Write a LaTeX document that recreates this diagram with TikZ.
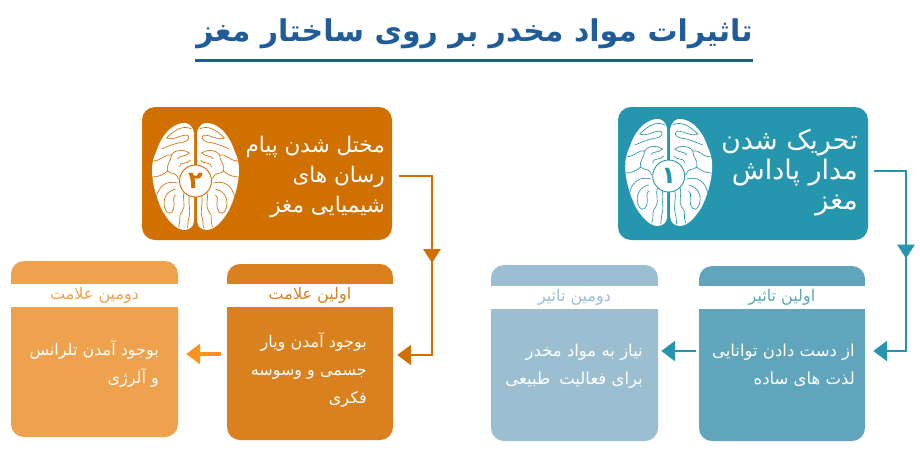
\documentclass[tikz,border=0pt]{standalone}
\usepackage{fontspec}
\usetikzlibrary{arrows.meta,decorations.markings}
\TeXXeTstate=1
\newfontfamily\arabicfont[Script=Arabic]{DejaVu Sans}
\newcommand{\fa}[1]{{\arabicfont\beginR #1\endR}}
\definecolor{tealmain}{HTML}{2596AE}
\definecolor{tealone}{HTML}{60A5BC}
\definecolor{tealtwo}{HTML}{9BBFD0}
\definecolor{orgmain}{HTML}{D07000}
\definecolor{orgone}{HTML}{D9801F}
\definecolor{orgtwo}{HTML}{EEA24E}
\definecolor{orgarrow}{HTML}{F7931E}
\definecolor{titleblue}{HTML}{1F5C99}
\tikzset{
 mainbox/.style={rounded corners=13pt,minimum width=250pt,minimum height=133pt,inner sep=0pt},
 card/.style={rounded corners=13pt,minimum width=#1,inner sep=0pt},
 titletext/.style={font=\fontsize{30}{34}\selectfont\bfseries,text=titleblue,inner sep=0pt},
 maintext/.style={font=\fontsize{21.5}{30}\selectfont,text=white,align=right,anchor=east,inner sep=0pt},
 bodytext/.style={font=\fontsize{16}{28}\selectfont,text=white,align=right,anchor=north east,inner sep=0pt},
 headtext/.style={font=\fontsize{16}{18}\selectfont,fill=white,minimum width=172pt,minimum height=23pt,inner sep=0pt},
 badge/.style={circle,fill=white,line width=.9pt,minimum size=32pt,inner sep=0pt,font=\fontsize{24}{26}\selectfont\bfseries},
 conn/.style={line width=2.8pt,-{Triangle[width=20pt,length=14pt]}},
 midtip/.style={postaction={decorate},decoration={markings,mark=at position #1 with {\arrow{Triangle[width=17pt,length=14pt]}}}},
}
% brain: #1 x centre, #2 top y, #3 line colour
\newcommand{\brainmark}[3]{%
\begin{scope}[shift={(#1,#2)}]
 \foreach \s in {-1,1}{
 \begin{scope}[xscale=\s]
  \fill[white] (1.5,10) .. controls (3,2) and (8,-1) .. (13,0) .. controls (26,2) and (35,15) .. (39,28)
    .. controls (42,34) and (43.5,40) .. (43.5,47) .. controls (43.5,62) and (38,78) .. (33,88)
    .. controls (27,98) and (20,106) .. (12,107) .. controls (6,107) and (2,104) .. (1.5,98) -- cycle;
  \begin{scope}[draw=#3,line width=.65pt]
  \draw (4,6) .. controls (12,2) and (20,6) .. (29,15) .. controls (22,18) and (16,12) .. (9,12) .. controls (5,13) and (6,18) .. (12,19) .. controls (20,20) and (24,22) .. (34,26);
  \draw (42.5,38) .. controls (34,38) and (30,30) .. (24,32) .. controls (20,26) and (12,26) .. (6,30) .. controls (10,34) and (16,32) .. (18,36);
  \draw (24,32) .. controls (24,38) and (30,42) .. (28,48) .. controls (32,52) and (38,54) .. (43,54);
  \draw (5,37) .. controls (8,42) and (16,38) .. (16,44);
  \draw (28,48) .. controls (24,52) and (20,48) .. (17,56);
  \draw (18,60) .. controls (26,58) and (32,60) .. (36,66) .. controls (38,70) and (39,72) .. (39,74);
  \draw (20,66) .. controls (28,68) and (33,74) .. (31,84) .. controls (29,92) and (24,92) .. (22,86) .. controls (20,78) and (24,76) .. (20,72);
  \draw (11,68) .. controls (14,76) and (9,82) .. (13,88) .. controls (18,92) and (14,98) .. (17,104);
  \draw (6,72) .. controls (8,80) and (4,88) .. (7,96) .. controls (8,100) and (7,102) .. (8,105);
  \end{scope}
 \end{scope}}
\end{scope}}
\begin{document}
\begin{tikzpicture}[x=1pt,y=-1pt]
\useasboundingbox (0,0) rectangle (920,459);
\fill[white] (0,0) rectangle (920,459);
% title
\node[titletext] (title) at (474.5,34) {\fa{تاثیرات مواد مخدر بر روی ساختار مغز}};
\coordinate (ruleL) at (195,60.5);
\coordinate (ruleR) at (753,60.5);
\draw[titleblue,line width=3.6pt] (ruleL) -- (ruleR);
% main boxes
\node[mainbox,fill=tealmain] (boxT) at (743,173.5) {};
\node[mainbox,fill=orgmain] (boxO) at (267,173.5) {};
\brainmark{668.7}{119}{tealmain}
\brainmark{195.5}{123}{orgmain}
\node[badge,draw=tealmain,text=tealmain] (badgeT) at (668.7,176) {\fa{۱}};
\node[badge,draw=orgmain,text=orgmain] (badgeO) at (195.5,181) {\fa{۲}};
\node[maintext,font=\fontsize{27}{30}\selectfont] (textT) at (858,173) {\fa{تحریک شدن}\\\fa{مدار پاداش}\\\fa{مغز}};
\node[maintext] (textO) at (385,177) {\fa{مختل شدن پیام}\\\fa{رسان های}\\\fa{شیمیایی مغز}};
% cards
\node[card=166pt,minimum height=175pt,fill=tealone] (cardT1) at (782,353.5) {};
\node[card=167pt,minimum height=176pt,fill=tealtwo] (cardT2) at (574.5,353) {};
\node[card=166pt,minimum height=176pt,fill=orgone] (cardO1) at (310,352) {};
\node[card=167pt,minimum height=176pt,fill=orgtwo] (cardO2) at (94.5,349) {};
% headers
\node[headtext,text=tealone] (h1) at (782,297.5) {\fa{اولین تاثیر}};
\node[headtext,text=tealtwo] (h2) at (574.5,297.5) {\fa{دومین تاثیر}};
\node[headtext,text=orgone] (h3) at (310,295.5) {\fa{اولین علامت}};
\node[headtext,text=orgtwo] (h4) at (94.5,295.5) {\fa{دومین علامت}};
% body
\node[bodytext,font=\fontsize{16.5}{28}\selectfont] (b1) at (855,343.5) {\fa{از دست دادن توانایی}\\\fa{لذت های ساده}\hspace{6pt}};
\node[bodytext,font=\fontsize{16.5}{28}\selectfont] (b2) at (643,343.5) {\fa{نیاز به مواد مخدر}\\\fa{برای فعالیت\hspace{9pt}طبیعی}};
\node[bodytext] (b3) at (367,332) {\fa{بوجود آمدن ویار}\\\fa{جسمی و وسوسه}\\\fa{فکری}};
\node[bodytext] (b4) at (159,340) {\fa{بوجود آمدن تلرانس}\\\fa{و آلرژی}};
% connectors
\coordinate (tc) at (906,171);
\coordinate (tm) at (906,351);
\draw[tealmain,conn,midtip=0.488] ([shift={(6pt,2.5pt)}]boxT.east) -- (tc) -- (tm) -- ([shift={(8pt,2.5pt)}]cardT1.east);
\coordinate (oc) at (432,176);
\coordinate (om) at (432,355);
\draw[orgmain,conn,midtip=0.486] ([shift={(7pt,-2.5pt)}]boxO.east) -- (oc) -- (om) -- ([shift={(4pt,-3pt)}]cardO1.east);
\draw[tealmain,conn] ([shift={(-3pt,2.5pt)}]cardT1.west) -- ([shift={(3pt,2pt)}]cardT2.east);
\draw[orgarrow,conn,line width=3.2pt] ([shift={(-6pt,-2pt)}]cardO1.west) -- ([shift={(8pt,-5pt)}]cardO2.east);
\end{tikzpicture}
\end{document}
